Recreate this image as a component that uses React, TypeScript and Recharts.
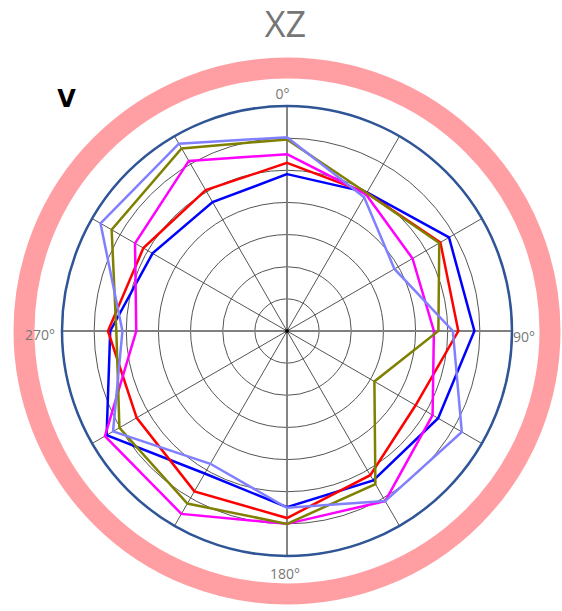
import React from "react";
import {
  RadarChart,
  Radar,
  PolarGrid,
  PolarAngleAxis,
  PolarRadiusAxis,
} from "recharts";

// angle categories, clockwise from top
const angles = ["0", "30", "60", "90", "120", "150", "180", "210", "240", "270", "300", "330"];
const tickLabels = ["0°", "", "", "90°", "", "", "180°", "", "", "270°", "", ""];

// radial values, 7 rings = outer circle
const blueVals = [4.88, 4.98, 5.82, 5.83, 5.43, 5.37, 5.48, 5.12, 6.48, 5.5, 4.83, 4.63];
const redVals = [5.23, 4.96, 5.51, 5.33, 4.62, 5.18, 5.82, 5.76, 5.4, 5.57, 5.16, 5.06];
const magentaVals = [5.5, 4.91, 4.51, 4.57, 5.23, 6.11, 6.0, 6.57, 6.54, 4.69, 5.46, 6.11];
const oliveVals = [5.96, 4.96, 5.47, 4.71, 3.14, 5.5, 6.0, 6.2, 6.02, 5.31, 6.3, 6.56];
const lightBlueVals = [6.03, 4.8, 3.86, 5.16, 6.28, 6.11, 5.5, 4.77, 6.25, 5.12, 6.7, 6.73];

const data = angles.map((a, i) => ({
  angle: a,
  blue: blueVals[i],
  red: redVals[i],
  magenta: magentaVals[i],
  olive: oliveVals[i],
  lightBlue: lightBlueVals[i],
}));

const series = [
  { key: "blue", color: "#0000ff" },
  { key: "red", color: "#ff0000" },
  { key: "magenta", color: "#ff00ff" },
  { key: "olive", color: "#808000" },
  { key: "lightBlue", color: "#8080ff" },
];

const W = 562;
const H = 611;
const CX = 287;
const CY = 331;
const R = 225;

// small nudges so the four labels sit like the original
const nudges: Record<number, [number, number]> = {
  0: [-4.5, -5],
  3: [-7, 5],
  6: [-2, 9],
  9: [1, 3.5],
};

const AngleTick = (props: any) => {
  const { x, y, index, textAnchor } = props;
  const label = tickLabels[index];
  if (!label) return <g />;
  const [dx, dy] = nudges[index] || [0, 0];
  return (
    <text
      x={x + dx}
      y={y + dy}
      textAnchor={textAnchor}
      dominantBaseline="central"
      fontSize={14}
      fill="#777"
      fontFamily="'Open Sans', sans-serif"
    >
      {label}
    </text>
  );
};

const App: React.FC = () => {
  return (
    <div style={{ position: "absolute", left: 0, top: 0, width: W, height: H, background: "#fff" }}>
      <RadarChart
        width={W}
        height={H}
        data={data}
        cx={CX}
        cy={CY}
        outerRadius={R}
        margin={{ top: 0, right: 0, bottom: 0, left: 0 }}
      >
        {/* pink ring */}
        <PolarGrid
          gridType="circle"
          radialLines={false}
          polarRadius={[263]}
          stroke="#ff9fa3"
          strokeWidth={21}
        />
        {/* rings + spokes */}
        <PolarGrid gridType="circle" stroke="#555" strokeWidth={1} />
        {/* heavier main axes */}
        <PolarGrid
          gridType="circle"
          polarAngles={[90, 0, -90, 180]}
          polarRadius={[0]}
          stroke="#808080"
          strokeWidth={1.8}
        />
        <PolarRadiusAxis
          angle={90}
          domain={[0, 7]}
          tickCount={8}
          tick={false}
          axisLine={false}
        />
        <PolarAngleAxis
          dataKey="angle"
          axisLineType="circle"
          axisLine={{ stroke: "#2f5597", strokeWidth: 2.5 }}
          stroke="#2f5597"
          tickLine={false}
          tick={AngleTick}
        />
        {series.map((s) => (
          <Radar
            key={s.key}
            dataKey={s.key}
            stroke={s.color}
            strokeWidth={2.5}
            fill="none"
            fillOpacity={0}
            dot={false}
            isAnimationActive={false}
          />
        ))}
      </RadarChart>
      <svg
        width={W}
        height={H}
        style={{ position: "absolute", left: 0, top: 0, pointerEvents: "none" }}
      >
        <text
          x={285.5}
          y={36.7}
          textAnchor="middle"
          fontSize={36}
          fill="#767676"
          fontFamily="'Open Sans', sans-serif"
        >
          XZ
        </text>
        <text
          x={66.5}
          y={107}
          textAnchor="middle"
          fontSize={24}
          fontWeight="bold"
          fill="#000"
          fontFamily="'DejaVu Sans', sans-serif"
        >
          V
        </text>
        <circle cx={CX} cy={CY} r={2} fill="#000" />
      </svg>
    </div>
  );
};

export default App;
